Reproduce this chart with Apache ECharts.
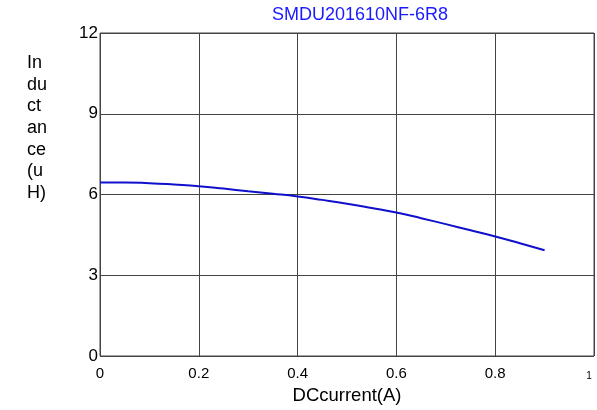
<!DOCTYPE html>
<html><head><meta charset="utf-8">
<script src="https://cdn.jsdelivr.net/npm/echarts@6/dist/echarts.min.js"></script>
<style>html,body{margin:0;padding:0;background:#fff}#c{width:597px;height:410px}</style>
</head><body><div id="c"></div>
<script>
const currentA = [0, 0.05, 0.1, 0.15, 0.2, 0.25, 0.3, 0.35, 0.4, 0.45, 0.5, 0.55, 0.6, 0.65, 0.7, 0.75, 0.8, 0.85, 0.9];
const inductanceUH = [6.45, 6.45, 6.42, 6.37, 6.31, 6.22, 6.12, 6.03, 5.93, 5.80, 5.66, 5.50, 5.33, 5.12, 4.90, 4.67, 4.44, 4.19, 3.93];
const titleText = 'SMDU201610NF-6R8';
const xName = 'DCcurrent(A)';
const yNameLines = ['In', 'du', 'ct', 'an', 'ce', '(u', 'H)'];

const chart = echarts.init(document.getElementById('c'));
const font = 'Arial, "Liberation Sans", sans-serif';
chart.setOption({
  animation: false,
  title: {text: titleText, left: 355, top: 1, textAlign: 'center',
    textStyle: {color: '#1a1aff', fontSize: 18, fontWeight: 'normal', fontFamily: font}},
  grid: {left: 100, right: 3, top: 33, bottom: 48, show: true, borderColor: '#444', borderWidth: 1},
  graphic: [{type: 'text', left: 27, top: 52,
    style: {text: yNameLines.join('\n'), fontSize: 18, lineHeight: 21.7, fill: '#000', fontFamily: font}}],
  xAxis: {type: 'value', min: 0, max: 1, interval: 0.2,
    name: xName, nameLocation: 'middle', nameGap: 30,
    nameTextStyle: {color: '#000', fontSize: 18.5, fontFamily: font},
    axisLine: {show: false}, axisTick: {show: false},
    splitLine: {show: true, lineStyle: {color: '#444', width: 1}},
    axisLabel: {color: '#000', fontSize: 15, fontFamily: font, margin: 10,
      formatter: v => v === 1 ? '{s|1}' : String(+v.toFixed(1)),
      rich: {s: {fontSize: 10, padding: [5, 10, 0, 0]}}}},
  yAxis: {type: 'value', min: 0, max: 12, interval: 3,
    axisLine: {show: false}, axisTick: {show: false},
    splitLine: {show: true, lineStyle: {color: '#444', width: 1}},
    axisLabel: {color: '#000', fontSize: 17, fontFamily: font, margin: 2}},
  series: [{type: 'line', data: currentA.map((x, i) => [x, inductanceUH[i]]),
    smooth: true, showSymbol: false, lineStyle: {color: '#1010cc', width: 2}}]
});
</script></body></html>
